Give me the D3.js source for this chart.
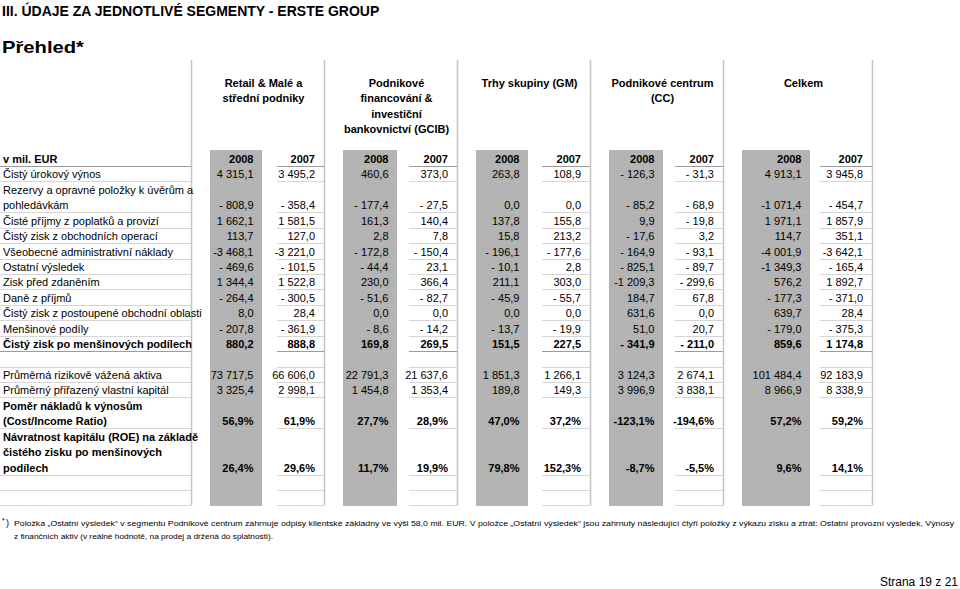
<!DOCTYPE html>
<html>
<head>
<meta charset="utf-8">
<title>Údaje za jednotlivé segmenty</title>
<script src="https://d3js.org/d3.v7.min.js"></script>
<style>
  body { margin: 0; background: #fff; }
  svg text { font-family: "Liberation Sans", Arial, sans-serif; fill: #000; }
</style>
</head>
<body>
<svg width="960" height="589"></svg>
<script>
// segment column headers (one entry per line)
const segNames = ["retail", "gcib", "gm", "cc", "total"];
const segHeaders = [
  ["Retail & Malé a", "střední podniky"],
  ["Podnikové", "financování &", "investiční", "bankovnictví (GCIB)"],
  ["Trhy skupiny (GM)"],
  ["Podnikové centrum", "(CC)"],
  ["Celkem"]
];
const years = ["2008", "2007"];

// row labels, blank rows are empty arrays
const rowLabels = [
  ["Čistý úrokový výnos"],
  ["Rezervy a opravné položky k úvěrům a", "pohledávkám"],
  ["Čisté příjmy z poplatků a provizí"],
  ["Čistý zisk z obchodních operací"],
  ["Všeobecné administrativní náklady"],
  ["Ostatní  výsledek"],
  ["Zisk před zdaněním"],
  ["Daně z příjmů"],
  ["Čistý zisk z postoupené obchodní oblasti"],
  ["Menšinové podíly"],
  ["Čistý zisk po menšinových podílech"],
  [],
  ["Průměrná rizikově vážená aktiva"],
  ["Průměrný přiřazený vlastní kapitál"],
  ["Poměr nákladů k výnosům", "(Cost/Income Ratio)"],
  ["Návratnost kapitálu (ROE) na základě", "čistého zisku po menšinových", "podílech"],
  [],
  []
];
const rowBold = [false, false, false, false, false, false, false, false, false, false, true, false, false, false, true, true, false, false];
const rowPct  = [false, false, false, false, false, false, false, false, false, false, false, false, false, false, true, true, false, false];

// values in mil. EUR (ratios in %), null = blank row
const retail2008 = [4315.1, -808.9, 1662.1, 113.7, -3468.1, -469.6, 1344.4, -264.4, 8.0, -207.8, 880.2, null, 73717.5, 3325.4, 56.9, 26.4, null, null];
const retail2007 = [3495.2, -358.4, 1581.5, 127.0, -3221.0, -101.5, 1522.8, -300.5, 28.4, -361.9, 888.8, null, 66606.0, 2998.1, 61.9, 29.6, null, null];
const gcib2008   = [460.6, -177.4, 161.3, 2.8, -172.8, -44.4, 230.0, -51.6, 0.0, -8.6, 169.8, null, 22791.3, 1454.8, 27.7, 11.7, null, null];
const gcib2007   = [373.0, -27.5, 140.4, 7.8, -150.4, 23.1, 366.4, -82.7, 0.0, -14.2, 269.5, null, 21637.6, 1353.4, 28.9, 19.9, null, null];
const gm2008     = [263.8, 0.0, 137.8, 15.8, -196.1, -10.1, 211.1, -45.9, 0.0, -13.7, 151.5, null, 1851.3, 189.8, 47.0, 79.8, null, null];
const gm2007     = [108.9, 0.0, 155.8, 213.2, -177.6, 2.8, 303.0, -55.7, 0.0, -19.9, 227.5, null, 1266.1, 149.3, 37.2, 152.3, null, null];
const cc2008     = [-126.3, -85.2, 9.9, -17.6, -164.9, -825.1, -1209.3, 184.7, 631.6, 51.0, -341.9, null, 3124.3, 3996.9, -123.1, -8.7, null, null];
const cc2007     = [-31.3, -68.9, -19.8, 3.2, -93.1, -89.7, -299.6, 67.8, 0.0, 20.7, -211.0, null, 2674.1, 3838.1, -194.6, -5.5, null, null];
const total2008  = [4913.1, -1071.4, 1971.1, 114.7, -4001.9, -1349.3, 576.2, -177.3, 639.7, -179.0, 859.6, null, 101484.4, 8966.9, 57.2, 9.6, null, null];
const total2007  = [3945.8, -454.7, 1857.9, 351.1, -3642.1, -165.4, 1892.7, -371.0, 28.4, -375.3, 1174.8, null, 92183.9, 8338.9, 59.2, 14.1, null, null];

const columns = [
  { seg: "retail", year: "2008", values: retail2008 },
  { seg: "retail", year: "2007", values: retail2007 },
  { seg: "gcib", year: "2008", values: gcib2008 },
  { seg: "gcib", year: "2007", values: gcib2007 },
  { seg: "gm", year: "2008", values: gm2008 },
  { seg: "gm", year: "2007", values: gm2007 },
  { seg: "cc", year: "2008", values: cc2008 },
  { seg: "cc", year: "2007", values: cc2007 },
  { seg: "total", year: "2008", values: total2008 },
  { seg: "total", year: "2007", values: total2007 }
];

const svg = d3.select("svg");

// layout
const segLeft  = d3.scaleOrdinal(segNames, [191, 324, 457, 590, 723]);
const segRight = d3.scaleOrdinal(segNames, [324, 457, 590, 723, 872]);
const grayWidth = d3.scaleOrdinal(segNames, [52, 54, 52, 54, 68]);
const lineW2007 = d3.scaleOrdinal(segNames, [47, 48, 48, 48, 52]);
const lineY = d3.scaleLinear().domain([0, 1]).range([159, 174.43]);   // text line centres
const headY = d3.scaleLinear().domain([0, 1]).range([83, 98.43]);

// assign line positions to rows
let cursor = 1;
const rows = rowLabels.map((lab, i) => {
  const n = Math.max(1, lab.length);
  const r = { labels: lab, first: cursor, last: cursor + n - 1, bold: rowBold[i], pct: rowPct[i], i };
  cursor += n;
  return r;
});
const lastLine = cursor - 1;
const tableBottom = lineY(lastLine) + 7;

function fmt(v, pct) {
  const a = Math.abs(v);
  let s = a.toFixed(1).replace(".", ",");
  const [int, dec] = s.split(",");
  s = int.replace(/\B(?=(\d{3})+(?!\d))/g, " ") + "," + dec;
  if (pct) return (v < 0 ? "-" : "") + s + "%";
  if (v < 0) return (a >= 1000 ? "-" : "- ") + s;
  return s;
}

// title
svg.append("text").attr("x", 2).attr("y", 16)
  .style("font-size", "14px").style("font-weight", "bold")
  .text("III. ÚDAJE ZA JEDNOTLIVÉ SEGMENTY - ERSTE GROUP");
svg.append("text").attr("x", 2).attr("y", 53)
  .style("font-size", "17px").style("font-weight", "bold")
  .attr("textLength", 82).attr("lengthAdjust", "spacingAndGlyphs")
  .text("Přehled*");

// gray 2008 columns
svg.selectAll(".gray").data(segNames).enter().append("rect")
  .attr("class", "gray")
  .attr("x", d => segLeft(d) + 19)
  .attr("y", 150)
  .attr("width", d => grayWidth(d))
  .attr("height", tableBottom - 150)
  .attr("fill", "#b3b3b3");

// vertical separators
svg.selectAll(".sep").data(segNames).enter().append("line")
  .attr("x1", d => segRight(d) + 0.5).attr("x2", d => segRight(d) + 0.5)
  .attr("y1", 60).attr("y2", tableBottom)
  .attr("stroke", "#c4c4c4").attr("stroke-width", 1.5);
svg.append("line")
  .attr("x1", segLeft("retail") + 0.5).attr("x2", segLeft("retail") + 0.5)
  .attr("y1", 60).attr("y2", tableBottom)
  .attr("stroke", "#c4c4c4").attr("stroke-width", 1.5);

// horizontal row rules
const rules = [{ y: lineY(0) + 7, dark: true }].concat(
  rows.map(r => ({ y: lineY(r.last) + 7, dark: r.bold && !r.pct })));
rules.forEach(rule => {
  const y = Math.round(rule.y) + 0.5;
  const col = rule.dark ? "#9c9c9c" : "#d6d6d6";
  svg.append("line").attr("x1", 0).attr("x2", segLeft("retail"))
    .attr("y1", y).attr("y2", y).attr("stroke", col);
  segNames.forEach(s => {
    svg.append("line").attr("x1", segRight(s) - lineW2007(s)).attr("x2", segRight(s))
      .attr("y1", y).attr("y2", y).attr("stroke", col);
    svg.append("line").attr("x1", segLeft(s) + 19).attr("x2", segLeft(s) + 19 + grayWidth(s))
      .attr("y1", y).attr("y2", y).attr("stroke", "#b8b8b8");
  });
});

// segment headers
segNames.forEach((s, i) => {
  svg.append("text")
    .attr("text-anchor", "middle")
    .style("font-size", "11px").style("font-weight", "bold")
    .selectAll("tspan").data(segHeaders[i]).enter().append("tspan")
    .attr("x", (segLeft(s) + segRight(s)) / 2 + 6)
    .attr("y", (d, k) => headY(k) + 4)
    .text(d => d);
});

// column x of right-aligned values
const colRight = c => c.year === "2008"
  ? segLeft(c.seg) + 19 + grayWidth(c.seg) - 8.5
  : segRight(c.seg) - 9;

// header row
svg.append("text").attr("x", 3).attr("y", lineY(0) + 4)
  .style("font-size", "11px").style("font-weight", "bold").text("v mil. EUR");
svg.selectAll(".yr").data(columns).enter().append("text")
  .attr("x", colRight).attr("y", lineY(0) + 4)
  .attr("text-anchor", "end")
  .style("font-size", "11px").style("font-weight", "bold")
  .text(d => d.year);

// row labels
rows.forEach(r => {
  r.labels.forEach((t, k) => {
    svg.append("text").attr("x", 3).attr("y", lineY(r.first + k) + 4)
      .style("font-size", "11px").style("font-weight", r.bold ? "bold" : "normal")
      .text(t);
  });
});

// values
columns.forEach(c => {
  svg.append("g").selectAll("text")
    .data(rows.filter(r => c.values[r.i] !== null))
    .enter().append("text")
    .attr("x", colRight(c))
    .attr("y", r => lineY(r.last) + 4)
    .attr("text-anchor", "end")
    .style("font-size", "11px")
    .style("font-weight", r => r.bold ? "bold" : "normal")
    .text(r => fmt(c.values[r.i], r.pct));
});

// footnote
const note = svg.append("g").style("font-family", "'Liberation Sans Narrow', 'Liberation Sans', sans-serif");
note.append("text").attr("x", 2).attr("y", 523).style("font-size", "7px").text("*");
note.append("text").attr("x", 6).attr("y", 526).style("font-size", "9px").text(")");
note.append("text").attr("x", 14).attr("y", 526).style("font-size", "8px")
  .attr("textLength", 940).attr("lengthAdjust", "spacingAndGlyphs")
  .text("Položka „Ostatní výsledek“ v segmentu Podnikové centrum zahrnuje odpisy klientské základny ve výši 58,0 mil. EUR. V položce „Ostatní výsledek“ jsou zahrnuty následující čtyři položky z výkazu zisku a ztrát: Ostatní provozní výsledek, Výnosy");
note.append("text").attr("x", 14).attr("y", 539).style("font-size", "8px")
  .attr("textLength", 259).attr("lengthAdjust", "spacingAndGlyphs")
  .text("z finančních aktiv (v reálné hodnotě, na prodej a držená do splatnosti).");

svg.append("text").attr("x", 958).attr("y", 586).attr("text-anchor", "end")
  .style("font-size", "12px").text("Strana 19 z 21");
</script>
</body>
</html>
